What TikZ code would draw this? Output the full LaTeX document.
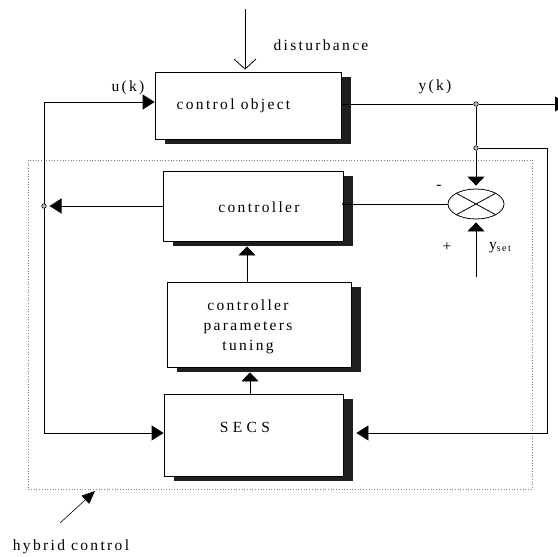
\documentclass[tikz,border=0pt]{standalone}
\usepackage{fontspec}
\setmainfont{Liberation Serif}[LetterSpace=15]
\newfontfamily\widefont{Liberation Serif}[LetterSpace=28]
\usetikzlibrary{arrows.meta,shapes.geometric,shadows,calc}
\begin{document}
\begin{tikzpicture}[x=1pt,y=-1pt,line width=0.8pt,
  box/.style={draw, fill=white, inner sep=0pt,
    drop shadow={shadow xshift=10pt, shadow yshift=-5pt, fill=black!88, opacity=1}},
  tri/.style={-{Triangle[length=12pt,width=15pt]}},
  bitri/.style={{Triangle[length=12pt,width=15pt]}-{Triangle[length=12pt,width=15pt]}},
  vtri/.style={-{Triangle[length=9pt,width=17pt]}},
  lbl/.style={font=\fontsize{15.5}{20}\selectfont, inner sep=0pt},
  dot/.style={circle, draw, fill=gray!50, inner sep=0pt, minimum size=4.5pt, line width=0.6pt}]
\clip (0,0) rectangle (558,557);
\fill[white] (0,0) rectangle (558,557);
% hybrid control frame
\draw[dotted, gray, line width=0.7pt] (28,160) rectangle (532,489);
% boxes
\node[box, minimum width=186pt, minimum height=67pt] (obj) at (248,105.5) {};
\node[box, minimum width=180pt, minimum height=70pt] (ctrl) at (253,206) {};
\node[box, minimum width=184pt, minimum height=85pt] (tune) at (259,324.5) {};
\node[box, minimum width=179pt, minimum height=82pt] (secs) at (253.5,435) {};
\node[ellipse, draw, fill=white, minimum width=56pt, minimum height=30pt, inner sep=0pt] (sum) at (476,204) {};
\draw (sum.north west) -- (sum.south east) (sum.north east) -- (sum.south west);
% box texts
\node[lbl] (tobj) at (233.5,106) {control object};
\node[lbl] (tctrl) at (259,207) {controller};
\node[lbl, align=center] (ttune) at (248,327) {controller\\parameters\\tuning};
\node[lbl, font=\fontsize{15.5}{20}\selectfont\widefont] (tsecs) at (245,427) {SECS};
% left loop
\coordinate (l1) at (44,102);
\coordinate (l2) at (44,433);
\draw[bitri] (obj.west|-l1) -- (l1) -- (l2) -- (secs.west|-l2);
% junction dots
\node[dot] (d1) at (476,104) {};
\node[dot] (d2) at (476,148) {};
\node[dot] (d3) at (44,206) {};
% output
\coordinate (out) at (567,104);
\draw (obj.east|-d1) -- (d1);
\draw[tri] (d1) -- (out);
\draw (d1) -- (d2);
\draw[vtri, shorten >=3pt] (d2) -- (sum.north);
% feedback to SECS
\coordinate (fr1) at (547,148);
\coordinate (fr2) at (547,433);
\draw[tri, shorten >=13pt] (d2) -- (fr1) -- (fr2) -- (secs.east|-fr2);
% set point
\coordinate (ys) at (476,277);
\draw[vtri, shorten >=3pt] (ys) -- (sum.south);
% sum to controller
\draw (sum.west) -- (ctrl.east|-sum.west);
\fill (ctrl.east|-sum.west) circle (1.5pt);
% controller output
\draw[tri, shorten >=3pt] (ctrl.west) -- (d3);
% tuning and SECS arrows
\coordinate (ta) at (247,0);
\coordinate (sa) at (250,0);
\draw[vtri, shorten >=5pt] (tune.north-|ta) -- (ctrl.south-|ta);
\draw[vtri, shorten >=5pt] (secs.north-|sa) -- (tune.south-|sa);
% disturbance
\coordinate (dtop) at (245,9);
\draw[-{Straight Barb[length=10pt,width=22pt]}, shorten >=2pt] (dtop) -- (obj.north-|dtop);
% hybrid control arrow
\coordinate (htail) at (60,523);
\coordinate (htip) at (95,491);
\draw[-{Triangle[length=13pt,width=11pt]}, line width=0.6pt] (htail) -- (htip);
% labels
\node[lbl] (ldist) at (321,45) {disturbance};
\node[lbl] (lu) at (128,88) {u(k)};
\node[lbl] (ly) at (435,87) {y(k)};
\node[lbl] (lminus) at (439,187) {-};
\node[lbl] (lplus) at (447,247) {+};
\node[lbl] (lyset) at (500,248) {y\raisebox{-2pt}{\fontsize{10}{10}\selectfont set}};
\node[lbl] (lhyb) at (71,547) {hybrid control};
\end{tikzpicture}
\end{document}
